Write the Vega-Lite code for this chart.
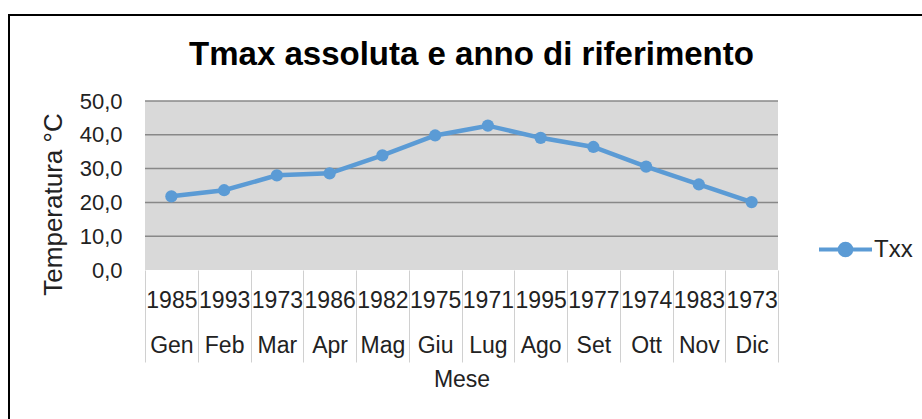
{
  "$schema": "https://vega.github.io/schema/vega-lite/v6.json",
  "width": 917,
  "height": 408,
  "autosize": {"type": "none"},
  "padding": {"left": 9, "top": 15, "right": -4, "bottom": -4},
  "background": "white",
  "title": {
    "text": "Tmax assoluta e anno di riferimento",
    "font": "Liberation Sans",
    "fontSize": 33,
    "fontWeight": "bold",
    "color": "#000000",
    "anchor": "middle",
    "frame": "group",
    "offset": 0,
    "dy": 57,
    "dx": 4
  },
  "config": {
    "view": {"fill": "white", "stroke": "#000000", "strokeWidth": 2},
    "font": "Liberation Sans"
  },
  "layer": [
    {
      "data": {"values": [{"lo": 0, "hi": 50}]},
      "mark": {"type": "rect", "fill": "#d9d9d9"},
      "encoding": {
        "x": {"datum": 0, "type": "quantitative", "scale": {"domain": [0, 1], "range": [136, 769]}, "axis": null},
        "x2": {"datum": 1},
        "y": {"field": "lo", "type": "quantitative", "title": "Temperatura °C"},
        "y2": {"field": "hi"}
      }
    },
    {
      "data": {"values": [{"g": 10}, {"g": 20}, {"g": 30}, {"g": 40}, {"g": 50}]},
      "mark": {"type": "rule", "color": "#888888", "strokeWidth": 1.5},
      "encoding": {
        "x": {"datum": 0, "type": "quantitative", "scale": {"domain": [0, 1], "range": [136, 769]}, "axis": null},
        "x2": {"datum": 1},
        "y": {"field": "g", "type": "quantitative", "title": "Temperatura °C"}
      }
    },
    {
      "data": {
        "values": [
          {"etichetta": "1985|Gen", "mese": "Gen", "anno": "1985", "Tmax": 21.8, "serie": "Txx"},
          {"etichetta": "1993|Feb", "mese": "Feb", "anno": "1993", "Tmax": 23.6, "serie": "Txx"},
          {"etichetta": "1973|Mar", "mese": "Mar", "anno": "1973", "Tmax": 28.0, "serie": "Txx"},
          {"etichetta": "1986|Apr", "mese": "Apr", "anno": "1986", "Tmax": 28.6, "serie": "Txx"},
          {"etichetta": "1982|Mag", "mese": "Mag", "anno": "1982", "Tmax": 33.9, "serie": "Txx"},
          {"etichetta": "1975|Giu", "mese": "Giu", "anno": "1975", "Tmax": 39.8, "serie": "Txx"},
          {"etichetta": "1971|Lug", "mese": "Lug", "anno": "1971", "Tmax": 42.7, "serie": "Txx"},
          {"etichetta": "1995|Ago", "mese": "Ago", "anno": "1995", "Tmax": 39.1, "serie": "Txx"},
          {"etichetta": "1977|Set", "mese": "Set", "anno": "1977", "Tmax": 36.4, "serie": "Txx"},
          {"etichetta": "1974|Ott", "mese": "Ott", "anno": "1974", "Tmax": 30.6, "serie": "Txx"},
          {"etichetta": "1983|Nov", "mese": "Nov", "anno": "1983", "Tmax": 25.3, "serie": "Txx"},
          {"etichetta": "1973|Dic", "mese": "Dic", "anno": "1973", "Tmax": 20.1, "serie": "Txx"}
        ]
      },
      "encoding": {
        "x": {
          "field": "etichetta",
          "type": "ordinal",
          "sort": null,
          "scale": {"type": "band", "paddingInner": 0, "paddingOuter": 0, "range": [136, 769]},
          "title": "Mese",
          "axis": {
            "offset": -153,
            "labelExpr": "isValid(datum.value) ? split(datum.value, '|') : ''",
            "labelAngle": 0,
            "labelFont": "Liberation Sans",
            "labelFontSize": 23,
            "labelColor": "#222222",
            "labelBaseline": "top",
            "labelLineHeight": 45,
            "labelPadding": -73,
            "labelOverlap": false,
            "labelBound": false,
            "domain": false,
            "grid": false,
            "ticks": true,
            "tickBand": "extent",
            "tickSize": 92,
            "tickColor": "#d0d0d0",
            "tickWidth": 1,
            "titleFont": "Liberation Sans",
            "titleFontSize": 23,
            "titleFontWeight": "normal",
            "titleColor": "#222222",
            "titlePadding": 6
          }
        },
        "y": {
          "field": "Tmax",
          "type": "quantitative",
          "scale": {"domain": [0, 50], "range": [255, 86]},
          "title": "Temperatura °C",
          "axis": {
            "offset": -136,
            "values": [0, 10, 20, 30, 40, 50],
            "labelExpr": "replace(format(datum.value, '.1f'), '.', ',')",
            "labelFont": "Liberation Sans",
            "labelFontSize": 22,
            "labelColor": "#222222",
            "labelPadding": 23,
            "domain": false,
            "ticks": false,
            "grid": false,
            "titleFont": "Liberation Sans",
            "titleFontSize": 26,
            "titleFontWeight": "normal",
            "titleColor": "#222222",
            "titlePadding": 13,
            "titleY": 189
          }
        },
        "color": {
          "field": "serie",
          "type": "nominal",
          "title": null,
          "scale": {"range": ["#5b9bd5"]},
          "legend": {
            "orient": "none",
            "legendX": 808,
            "legendY": 206,
            "padding": 0,
            "symbolType": "M-1,0H1M0.22,0A0.22,0.22,0,1,1,-0.22,0A0.22,0.22,0,1,1,0.22,0Z",
            "symbolSize": 2809,
            "symbolStrokeWidth": 4,
            "symbolStrokeColor": "#5b9bd5",
            "symbolFillColor": "#5b9bd5",
            "symbolOpacity": 1,
            "labelFont": "Liberation Sans",
            "labelFontSize": 24,
            "labelColor": "#222222",
            "labelOffset": 0
          }
        }
      },
      "layer": [
        {"mark": {"type": "line", "strokeWidth": 4.5}},
        {"mark": {"type": "point", "filled": true, "size": 150, "opacity": 1}}
      ]
    }
  ],
  "resolve": {"scale": {"x": "independent"}, "axis": {"x": "independent"}}
}
